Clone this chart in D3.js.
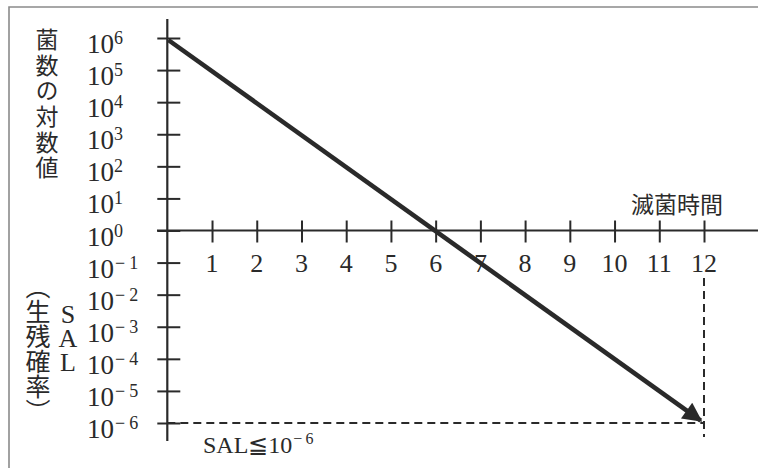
<!DOCTYPE html>
<html>
<head>
<meta charset="utf-8">
<script src="https://cdn.jsdelivr.net/npm/d3@7"></script>
<style>
  html, body { margin: 0; padding: 0; background: #fff; }
  svg { display: block; }
  .serif { font-family: "Liberation Serif", "DejaVu Serif", serif; }
  .cjk { font-family: "Noto Sans CJK JP", sans-serif; }
</style>
</head>
<body>
<svg id="chart" width="758" height="468"></svg>
<script>
// Sterilization time (x) vs. log10 of surviving organisms (y)
const timeTicks = [1, 2, 3, 4, 5, 6, 7, 8, 9, 10, 11, 12];
const logTicks = [6, 5, 4, 3, 2, 1, 0, -1, -2, -3, -4, -5, -6];
const killTime = [0, 12];
const logCount = [6, -6];
const salTime = 12;
const salLog = -6;
const yTitle = ["菌", "数", "の", "対", "数", "値"];
const salTitle = ["S", "A", "L"];

const ink = "#2a2a2a";
const svg = d3.select("#chart");

const x = d3.scaleLinear().domain([0, 12]).range([167.3, 704]);
const y = d3.scaleLinear().domain([-6, 6]).range([423, 38]);

// frame (top and left edges visible)
svg.append("path")
  .attr("d", "M9,470 L9,7 L760,7")
  .attr("fill", "none").attr("stroke", "#8a8a8a").attr("stroke-width", 1.6);

// dashed guides at SAL = 10^-6 and t = 12
svg.append("line")
  .attr("x1", x(0)).attr("x2", x(salTime))
  .attr("y1", y(salLog)).attr("y2", y(salLog))
  .attr("stroke", ink).attr("stroke-width", 2).attr("stroke-dasharray", "8,5");
svg.append("line")
  .attr("x1", x(salTime)).attr("x2", x(salTime))
  .attr("y1", 278).attr("y2", y(salLog) + 14)
  .attr("stroke", ink).attr("stroke-width", 2).attr("stroke-dasharray", "8,5");

// y axis
const yAxis = d3.axisRight(y).tickValues(logTicks).tickSize(13).tickFormat("");
const gy = svg.append("g").attr("transform", `translate(${x(0)},0)`).call(yAxis);
gy.select(".domain").remove();
gy.selectAll(".tick line").attr("x1", -10).attr("stroke", ink).attr("stroke-width", 2);
svg.append("line")
  .attr("x1", x(0)).attr("x2", x(0)).attr("y1", 19).attr("y2", 441)
  .attr("stroke", ink).attr("stroke-width", 2.2);

// x axis
const xAxis = d3.axisBottom(x).tickValues(timeTicks).tickSize(12).tickFormat("");
const gx = svg.append("g").attr("transform", `translate(0,${y(0)})`).call(xAxis);
gx.select(".domain").remove();
gx.selectAll(".tick line").attr("y1", -10).attr("stroke", ink).attr("stroke-width", 2);
svg.append("line")
  .attr("x1", 157).attr("x2", 758).attr("y1", y(0)).attr("y2", y(0))
  .attr("stroke", ink).attr("stroke-width", 2.2);

// x tick labels
svg.append("g").selectAll("text").data(timeTicks).join("text")
  .attr("class", "serif")
  .attr("x", d => x(d)).attr("y", y(0) + 41)
  .attr("text-anchor", "middle")
  .attr("font-size", 26).attr("fill", ink)
  .text(d => d);

// y tick labels: 10 with superscript exponent
const yl = svg.append("g").selectAll("text").data(logTicks).join("text")
  .attr("class", "serif")
  .attr("x", 87).attr("y", d => y(d) + 15)
  .attr("font-size", 27).attr("fill", ink);
yl.append("tspan").text("10");
yl.each(function (d) {
  const t = d3.select(this);
  if (d < 0) {
    t.append("tspan").attr("font-size", 18).attr("dy", -9).attr("dx", 1).text("−");
    t.append("tspan").attr("font-size", 18).attr("dx", 4).text(Math.abs(d));
  } else {
    t.append("tspan").attr("font-size", 18).attr("dy", -9).text(d);
  }
});

// decay line with arrowhead
svg.append("defs").append("marker")
  .attr("id", "head").attr("viewBox", "0 0 10 10")
  .attr("refX", 9).attr("refY", 5)
  .attr("markerWidth", 5).attr("markerHeight", 4.2)
  .attr("markerUnits", "strokeWidth").attr("orient", "auto")
  .append("path").attr("d", "M0,0 L10,5 L0,10 Z").attr("fill", ink);

const pts = killTime.map((t, i) => [x(t), y(logCount[i])]);
// stop the head just short of the guide corner
const [p0, p1] = pts;
const len = Math.hypot(p1[0] - p0[0], p1[1] - p0[1]);
const trim = 4;
const end = [p1[0] - (p1[0] - p0[0]) * trim / len, p1[1] - (p1[1] - p0[1]) * trim / len];
svg.append("path")
  .attr("d", d3.line()([[p0[0] + 1, p0[1] + 2], end]))
  .attr("fill", "none").attr("stroke", ink).attr("stroke-width", 4.6)
  .attr("marker-end", "url(#head)");

// axis titles
svg.append("text")
  .attr("class", "cjk").attr("font-size", 23).attr("fill", ink)
  .attr("x", 723).attr("y", 203).attr("text-anchor", "end")
  .attr("dominant-baseline", "central")
  .text("滅菌時間");

svg.append("text")
  .attr("class", "cjk").attr("font-size", 23).attr("fill", ink)
  .attr("x", 47).attr("y", 28)
  .style("writing-mode", "vertical-rl")
  .style("letter-spacing", "2.6px")
  .text(yTitle.join(""));

svg.append("text")
  .attr("class", "cjk").attr("font-size", 25).attr("fill", ink)
  .attr("x", 38).attr("y", 274)
  .style("writing-mode", "vertical-rl")
  .text("（生残確率）");

svg.append("text")
  .attr("class", "serif").attr("font-size", 26).attr("fill", ink)
  .attr("x", 68).attr("y", 300)
  .style("writing-mode", "vertical-rl")
  .style("text-orientation", "upright")
  .style("letter-spacing", "-5px")
  .text(salTitle.join(""));

// SAL threshold note
const note = svg.append("text")
  .attr("class", "serif").attr("font-size", 24).attr("fill", ink)
  .attr("x", 203).attr("y", 453);
note.append("tspan").text("SAL≦10");
note.append("tspan").attr("font-size", 16).attr("dy", -9).attr("dx", 1).text("−");
note.append("tspan").attr("font-size", 16).attr("dx", 3).text("6");
</script>
</body>
</html>
